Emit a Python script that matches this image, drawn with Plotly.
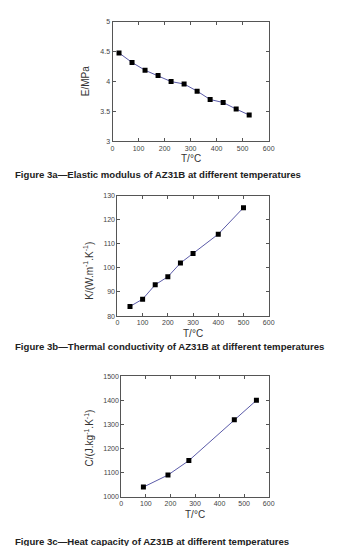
import plotly.graph_objects as go

W, H = 337, 546

# Panel a: elastic modulus
temp_a = [25, 75, 125, 175, 225, 275, 325, 375, 425, 475, 525]
modulus_a = [4.48, 4.32, 4.19, 4.10, 4.00, 3.96, 3.84, 3.70, 3.65, 3.54, 3.44]
# Panel b: thermal conductivity
temp_b = [50, 100, 150, 200, 250, 300, 400, 500]
cond_b = [84, 87, 93, 96.3, 102, 106, 114, 125]
# Panel c: heat capacity
temp_c = [90, 190, 275, 460, 550]
cap_c = [1040, 1090, 1150, 1320, 1400]

ylab_a = "E/MPa"
ylab_b = "K/(W.m<sup>-1</sup>.K<sup>-1</sup>)"
ylab_c = "C/(J.kg<sup>-1</sup>.K<sup>-1</sup>)"
xlab = "T/°C"
captions = [
    "Figure 3a\u2014Elastic modulus of AZ31B at different temperatures",
    "Figure 3b\u2014Thermal conductivity of AZ31B at different temperatures",
    "Figure 3c\u2014Heat capacity of AZ31B at different temperatures",
]

def px_x(x0, x1):
    return [x0 / W, x1 / W]

def px_y(top, bottom):
    return [1 - bottom / H, 1 - top / H]

panels = [
    dict(x=temp_a, y=modulus_a, xd=px_x(105, 265), yd=px_y(10, 131), yr=[3, 5], dt=0.5,
         ylab=ylab_a, ylx=77, yly=70, xly=148, cap_y=165),
    dict(x=temp_b, y=cond_b, xd=px_x(110, 265), yd=px_y(186, 308), yr=[80, 130], dt=10,
         ylab=ylab_b, ylx=80, yly=262, xly=326, cap_y=339),
    dict(x=temp_c, y=cap_c, xd=px_x(114, 265), yd=px_y(369, 491), yr=[1000, 1500], dt=100,
         ylab=ylab_c, ylx=81, yly=432, xly=509, cap_y=536),
]

fig = go.Figure()
annotations = []
axis_common = dict(showgrid=False, zeroline=False, showline=True, linecolor="#555555",
                   linewidth=1, mirror="ticks", ticks="inside", ticklen=3, tickwidth=1,
                   tickcolor="#555555", tickfont=dict(family="Liberation Sans", size=7, color="#444444"))
for i, p in enumerate(panels):
    n = "" if i == 0 else str(i + 1)
    fig.add_trace(go.Scatter(x=p["x"], y=p["y"], mode="lines+markers",
                             line=dict(color="#5b5ba8", width=1),
                             marker=dict(symbol="square", size=5, color="black"),
                             xaxis="x" + n, yaxis="y" + n, showlegend=False))
    fig.layout["xaxis" + n] = dict(domain=p["xd"], range=[0, 600], dtick=100, anchor="y" + n,
                                   **axis_common)
    fig.layout["yaxis" + n] = dict(domain=p["yd"], range=p["yr"], dtick=p["dt"], anchor="x" + n,
                                   **axis_common)
    xc = (p["xd"][0] + p["xd"][1]) / 2
    annotations.append(dict(text=xlab, x=xc, y=1 - p["xly"] / H, xref="paper", yref="paper",
                            showarrow=False, font=dict(family="Liberation Sans", size=10, color="#333333"),
                            xanchor="center", yanchor="middle"))
    annotations.append(dict(text=p["ylab"], x=p["ylx"] / W, y=1 - p["yly"] / H, xref="paper", yref="paper",
                            showarrow=False, textangle=-90,
                            font=dict(family="Liberation Sans", size=10, color="#333333"),
                            xanchor="center", yanchor="middle"))
    annotations.append(dict(text="<b>" + captions[i] + "</b>", x=3 / W, y=1 - p["cap_y"] / H,
                            xref="paper", yref="paper", showarrow=False,
                            font=dict(family="Liberation Sans", size=9.6, color="#222222"),
                            xanchor="left", yanchor="middle"))

fig.update_layout(width=W, height=H, margin=dict(l=0, r=0, t=0, b=0),
                  paper_bgcolor="white", plot_bgcolor="white", annotations=annotations)
fig.write_html("out.html")
